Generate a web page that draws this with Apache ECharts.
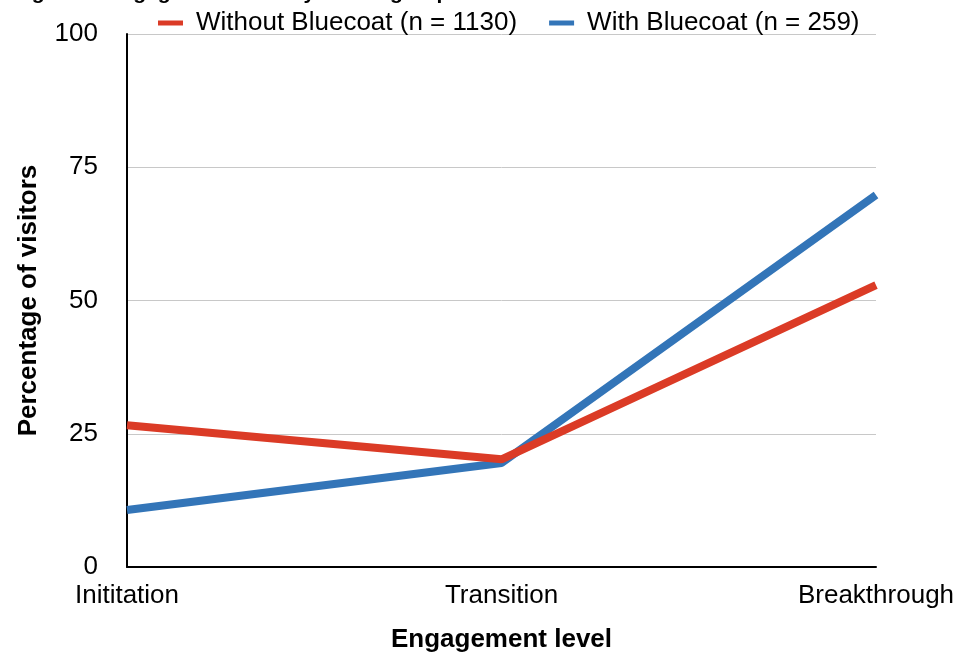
<!DOCTYPE html>
<html><head><meta charset="utf-8">
<script src="https://cdn.jsdelivr.net/npm/echarts@6/dist/echarts.min.js"></script>
<style>html,body{margin:0;padding:0;background:#fff}#c{width:959px;height:653px}</style>
</head><body><div id="c"></div>
<script>
const categories = ['Inititation', 'Transition', 'Breakthrough'];
const withoutBluecoat = [26.6, 20.2, 52.9];
const withBluecoat = [10.7, 19.5, 69.8];
const seriesNames = ['Without Bluecoat (n = 1130)', 'With Bluecoat (n = 259)'];
const yTicks = [0, 25, 50, 75, 100];
const titleText = 'Figure 1. Engagement level by visitor group with Bluecoat';

const chart = echarts.init(document.getElementById('c'));
const font = 'Liberation Sans, Arial, Helvetica, sans-serif';
chart.setOption({
  animation: false,
  textStyle: { fontFamily: font },
  title: {
    text: titleText,
    left: 8, top: -22,
    textStyle: { fontFamily: font, fontSize: 21, fontWeight: 'bold', color: '#000' }
  },
  legend: {
    top: 5, left: 153,
    itemWidth: 25, itemHeight: 5, itemGap: 32,
    icon: 'rect',
    textStyle: { fontFamily: font, fontSize: 26, color: '#000', padding: [0, 0, 0, 8] },
    data: seriesNames
  },
  grid: { left: 127, right: 83, top: 34, bottom: 86, containLabel: false, outerBoundsMode: 'none' },
  xAxis: {
    type: 'category', data: categories, boundaryGap: false,
    name: 'Engagement level', nameLocation: 'middle', nameGap: 60,
    nameTextStyle: { fontFamily: font, fontSize: 26, fontWeight: 'bold', color: '#000' },
    axisLine: { lineStyle: { color: '#000', width: 2 } },
    axisTick: { show: false },
    axisLabel: { fontFamily: font, fontSize: 26, color: '#000', margin: 16 }
  },
  yAxis: {
    type: 'value', min: 0, max: 100, interval: 25,
    name: 'Percentage of visitors', nameLocation: 'middle', nameGap: 85,
    nameTextStyle: { fontFamily: font, fontSize: 26, fontWeight: 'bold', color: '#000' },
    axisLine: { show: true, lineStyle: { color: '#000', width: 2 } },
    axisTick: { show: false },
    axisLabel: { fontFamily: font, fontSize: 26, color: '#000', margin: 29,
      formatter: v => yTicks.includes(v) ? String(v) : '' },
    splitLine: { lineStyle: { color: '#c8c8c8', width: 1 } }
  },
  series: [
    { name: seriesNames[0], type: 'line', data: withoutBluecoat, symbol: 'none',
      color: '#DB3B26', lineStyle: { width: 8, color: '#DB3B26' }, z: 3 },
    { name: seriesNames[1], type: 'line', data: withBluecoat, symbol: 'none',
      color: '#3375B8', lineStyle: { width: 8, color: '#3375B8' }, z: 2 }
  ]
});
</script></body></html>
